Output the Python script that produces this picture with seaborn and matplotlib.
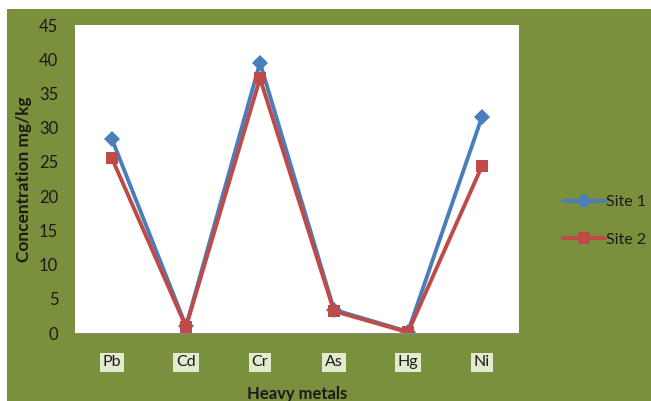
import matplotlib
matplotlib.use("Agg")
import matplotlib.pyplot as plt
import matplotlib.patches as mpatches
import seaborn as sns
import pandas as pd

metals = ["Pb", "Cd", "Cr", "As", "Hg", "Ni"]
site1 = [28.3, 1.0, 39.5, 3.4, 0.2, 31.6]
site2 = [25.5, 0.9, 37.2, 3.2, 0.1, 24.4]
series_names = ["Site 1", "Site 2"]
yticks = [0, 5, 10, 15, 20, 25, 30, 35, 40, 45]

df = pd.DataFrame({
    "metal": metals * 2,
    "value": site1 + site2,
    "site": [series_names[0]] * len(metals) + [series_names[1]] * len(metals),
})
df["x"] = [metals.index(m) for m in df["metal"]]

sns.set_style("white")
plt.rcParams["font.family"] = ["Lato", "DejaVu Sans"]

green = "#7b903c"
fig = plt.figure(figsize=(6.51, 4.01), dpi=100)
fig.patch.set_facecolor("white")
fig.patches.append(mpatches.Rectangle((7 / 651, 0), 1, 1 - 9 / 401,
                                      transform=fig.transFigure,
                                      facecolor=green, edgecolor="none", zorder=-10))

ax = fig.add_axes([75 / 651, 68 / 401, 444 / 651, 308 / 401])
ax.set_facecolor("white")

palette = {"Site 1": "#4a7ebb", "Site 2": "#be4b48"}
sns.lineplot(data=df, x="x", y="value", hue="site", style="site",
             markers={"Site 1": "D", "Site 2": "s"}, dashes=False,
             palette=palette, linewidth=2.8, markersize=8.5, markeredgewidth=0,
             ax=ax, sort=False)

ax.set_xlim(-0.5, len(metals) - 0.5)
ax.set_ylim(0, 45)
ax.set_yticks(yticks)
ax.set_yticklabels([str(v) for v in yticks], fontsize=12, color="#1a1a1a")
ax.set_xticks(range(len(metals)))
ax.set_xticklabels(metals, fontsize=11.5, color="#1a1a1a")
for lbl in ax.get_xticklabels():
    lbl.set_bbox(dict(facecolor="#e3ebcf", edgecolor="none", pad=2))
ax.tick_params(axis="both", length=0)
ax.tick_params(axis="x", pad=16)
ax.tick_params(axis="y", pad=12)
for s in ["top", "right", "left"]:
    ax.spines[s].set_visible(False)
ax.spines["bottom"].set_color("#8a8a8a")
ax.spines["bottom"].set_linewidth(0.8)

ax.set_xlabel("Heavy metals", fontsize=12, fontweight="bold", color="#1a1a1a", labelpad=12)
ax.set_ylabel("Concentration mg/kg", fontsize=12.5, fontweight="bold", color="#1a1a1a", labelpad=5)

handles, labels = ax.get_legend_handles_labels()
leg = ax.legend(handles, labels, loc="center left", bbox_to_anchor=(1.1, 0.364),
                frameon=False, fontsize=11.5, handlelength=2.6, handletextpad=0.05,
                labelspacing=1.45, borderpad=0, borderaxespad=0)
for t in leg.get_texts():
    t.set_color("#1a1a1a")

fig.savefig("out.png", dpi=100, facecolor=fig.get_facecolor())
